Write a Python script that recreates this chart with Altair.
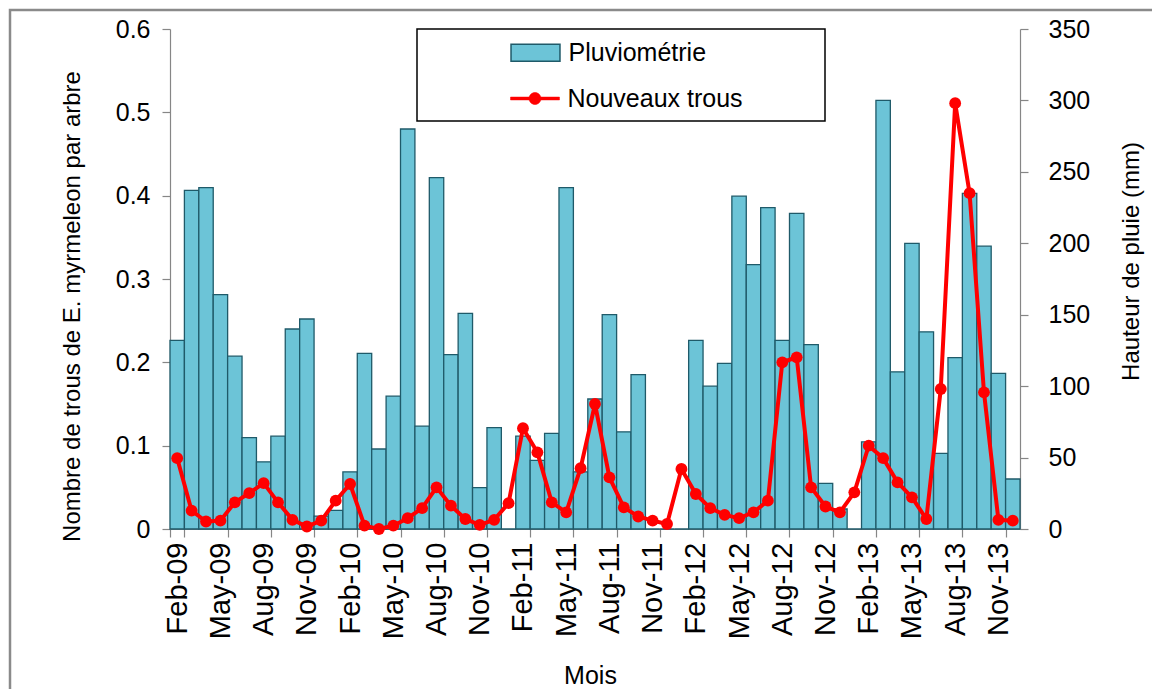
import altair as alt
import pandas as pd

# ---- data ----
months = [
    "Feb-09", "Mar-09", "Apr-09", "May-09", "Jun-09", "Jul-09", "Aug-09", "Sep-09", "Oct-09", "Nov-09", "Dec-09", "Jan-10",
    "Feb-10", "Mar-10", "Apr-10", "May-10", "Jun-10", "Jul-10", "Aug-10", "Sep-10", "Oct-10", "Nov-10", "Dec-10", "Jan-11",
    "Feb-11", "Mar-11", "Apr-11", "May-11", "Jun-11", "Jul-11", "Aug-11", "Sep-11", "Oct-11", "Nov-11", "Dec-11", "Jan-12",
    "Feb-12", "Mar-12", "Apr-12", "May-12", "Jun-12", "Jul-12", "Aug-12", "Sep-12", "Oct-12", "Nov-12", "Dec-12", "Jan-13",
    "Feb-13", "Mar-13", "Apr-13", "May-13", "Jun-13", "Jul-13", "Aug-13", "Sep-13", "Oct-13", "Nov-13", "Dec-13",
]

# Pluviométrie (mm) - right axis
rain = [
    132, 237, 239, 164, 121, 64, 47, 65, 140, 147, 9, 13,
    40, 123, 56, 93, 280, 72, 246, 122, 151, 29, 71, 0,
    65, 48, 67, 239, 40, 91, 150, 68, 108, 0, 0, 0,
    132, 100, 116, 233, 185, 225, 132, 221, 129, 32, 14, 0,
    61, 300, 110, 200, 138, 53, 120, 235, 198, 109, 35,
]

# Nouveaux trous (par arbre) - left axis
holes = [
    0.085, 0.022, 0.009, 0.010, 0.032, 0.043, 0.055, 0.032, 0.011, 0.003, 0.010, 0.034,
    0.054, 0.004, 0.000, 0.004, 0.013, 0.025, 0.050, 0.028, 0.012, 0.005, 0.011, 0.031,
    0.121, 0.092, 0.032, 0.020, 0.073, 0.150, 0.062, 0.026, 0.015, 0.010, 0.006, 0.072,
    0.042, 0.025, 0.017, 0.013, 0.020, 0.034, 0.200, 0.206, 0.050, 0.027, 0.020, 0.044,
    0.100, 0.085, 0.056, 0.038, 0.012, 0.168, 0.511, 0.403, 0.164, 0.011, 0.010,
]

tick_months = ["Feb-09", "May-09", "Aug-09", "Nov-09", "Feb-10", "May-10", "Aug-10", "Nov-10",
               "Feb-11", "May-11", "Aug-11", "Nov-11", "Feb-12", "May-12", "Aug-12", "Nov-12",
               "Feb-13", "May-13", "Aug-13", "Nov-13"]

left_ticks = [0, 0.1, 0.2, 0.3, 0.4, 0.5, 0.6]
right_ticks = [0, 50, 100, 150, 200, 250, 300, 350]

rain_name = ["Pluviométrie"]
holes_name = ["Nouveaux trous"]

# ---- styles ----
FONT = "Liberation Sans"
BAR_FILL = "#6cc4d7"
BAR_STROKE = "#1f5a69"
RED = "#ff0000"
GREY = "#868686"

df = pd.DataFrame({"month": months, "rain": rain, "holes": holes})
one = pd.DataFrame({"k": [0]})

x_enc = alt.X(
    "month:O",
    sort=months,
    scale=alt.Scale(paddingInner=0, paddingOuter=0),
    axis=alt.Axis(
        values=tick_months,
        title="Mois",
        labelAngle=-90,
        labelFontSize=29,
        tickBand="extent",
        tickExtra=False,
        tickSize=8,
        labelPadding=5,
        titleX=420,
        titleY=146,
        titleFontSize=25,
        titleBaseline="middle",
    ),
)

frame = alt.Chart(one).mark_rect(fillOpacity=0, stroke="#8a8a8a", strokeWidth=2.5).encode(
    x=alt.value(-160), x2=alt.value(1100), y=alt.value(-19), y2=alt.value(800)
)

legend_box = alt.Chart(one).mark_rect(fill="white", stroke="black", strokeWidth=1.5).encode(
    x=alt.value(247), x2=alt.value(655), y=alt.value(0), y2=alt.value(92)
)

bars = alt.Chart(df).mark_bar(
    fill=BAR_FILL, stroke=BAR_STROKE, strokeWidth=1.3, opacity=1
).encode(
    x=x_enc,
    y=alt.Y(
        "rain:Q",
        scale=alt.Scale(domain=[0, 350], nice=False),
        axis=alt.Axis(
            orient="right",
            values=right_ticks,
            title="Hauteur de pluie (mm)",
            tickSize=8,
            labelPadding=20,
            labelAlign="left",
            titleAngle=270,
            titleX=111,
            titleY=232,
            titleAlign="center",
            titleBaseline="middle",
        ),
    ),
)

y_left = alt.Y(
    "holes:Q",
    scale=alt.Scale(domain=[0, 0.6], nice=False),
    axis=alt.Axis(
        orient="left",
        values=left_ticks,
        format=".1~f",
        title="Nombre de trous de E. myrmeleon par arbre",
        tickSize=8,
        labelPadding=12,
        titleAngle=270,
        titleX=-98,
        titleY=277,
        titleAlign="center",
        titleBaseline="middle",
    ),
)

line = alt.Chart(df).mark_line(color=RED, strokeWidth=4).encode(x=x_enc, y=y_left)
points = alt.Chart(df).mark_circle(color=RED, size=140, opacity=1).encode(x=x_enc, y=y_left)

bar_path = "M-2.04,-0.71L2.04,-0.71L2.04,0.71L-2.04,0.71Z"
line_path = ("M-2.04,-0.12L2.04,-0.12L2.04,0.12L-2.04,0.12Z"
             "M-0.5,0A0.5,0.5 0 1,1 0.5,0A0.5,0.5 0 1,1 -0.5,0Z")


def make_legend(path, stroke_color, stroke_width, y):
    return alt.Legend(
        title=None,
        orient="none",
        legendX=352.5,
        legendY=y,
        padding=0,
        symbolType=path,
        symbolSize=576,
        symbolStrokeColor=stroke_color,
        symbolStrokeWidth=stroke_width,
        symbolOffset=0,
        labelFont=FONT,
        labelFontSize=25,
        labelColor="black",
        labelOffset=20,
        labelLimit=400,
    )


legend_rain = alt.Chart(pd.DataFrame({"s": rain_name})).mark_point(filled=True, opacity=0).encode(
    fill=alt.Fill("s:N", scale=alt.Scale(domain=rain_name, range=[BAR_FILL]),
                  legend=make_legend(bar_path, BAR_STROKE, 1.5, 10.7))
)

legend_holes = alt.Chart(pd.DataFrame({"s": holes_name})).mark_point(filled=True, opacity=0).encode(
    color=alt.Color("s:N", scale=alt.Scale(domain=holes_name, range=[RED]),
                    legend=make_legend(line_path, RED, 0.5, 57.0))
)

chart = alt.layer(
    alt.layer(frame, legend_box, bars, legend_rain),
    alt.layer(line, points, legend_holes),
).resolve_scale(y="independent").properties(
    width=850,
    height=500,
    autosize=alt.AutoSizeParams(type="none"),
    padding={"left": 162, "top": 21, "right": 132, "bottom": 160},
).configure_view(
    stroke=None
).configure_axis(
    labelFont=FONT,
    titleFont=FONT,
    labelFontSize=25,
    titleFontSize=24,
    titleFontWeight="normal",
    labelColor="black",
    titleColor="black",
    domainColor=GREY,
    tickColor=GREY,
    domainWidth=1.2,
    tickWidth=1.2,
    grid=False,
)

chart.save("out.html", embed_options={"renderer": "svg", "actions": False})
